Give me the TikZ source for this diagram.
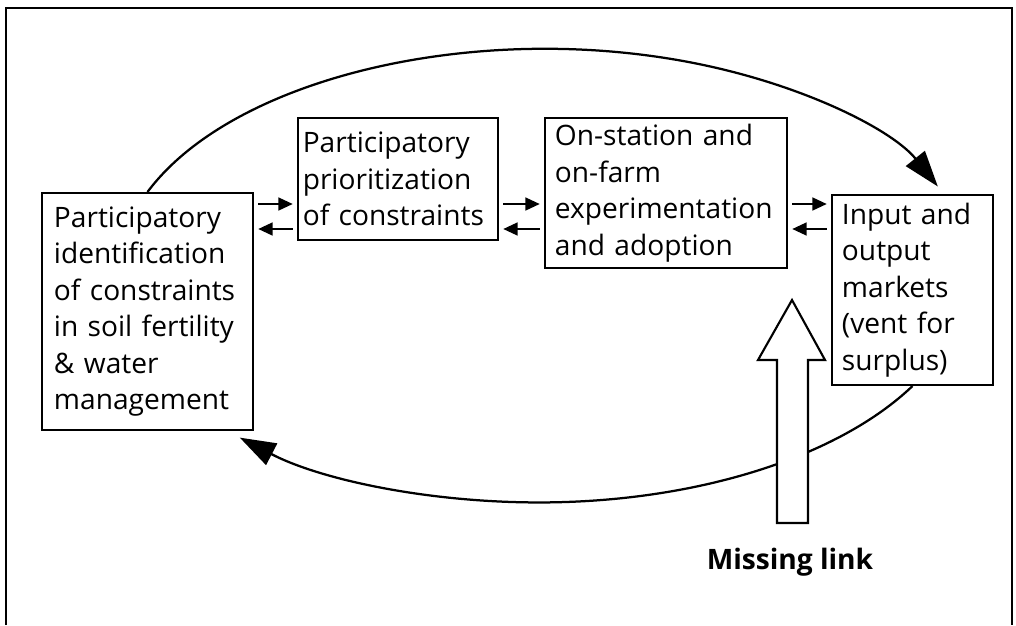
\documentclass[tikz,border=0pt]{standalone}
\usepackage{fontspec}
\setmainfont{Open Sans}
\usetikzlibrary{arrows.meta,positioning,calc}

\begin{document}
\begin{tikzpicture}[
    x=0.025cm, y=-0.025cm,
    box/.style={draw, line width=1.4pt, align=left, inner xsep=0.25cm, inner ysep=0pt, font=\fontsize{20}{26}\selectfont},
    sarr/.style={-{Triangle[length=0.36cm,width=0.32cm]}, line width=1.6pt, shorten <=3pt, shorten >=3pt},
    loop/.style={-{Triangle[length=0.9cm,width=0.6cm]}, line width=1.6pt},
    bigarrow/.style={draw, fill=white, line width=1.5pt, line join=miter}
  ]
    \useasboundingbox (0,0) rectangle (1016,625);
    % frame
    \draw[line width=1.5pt] (6,625) -- (6,8) -- (1012,8) -- (1012,625);

    \node[box, inner xsep=0.3cm, text width=4.675cm, minimum height=5.925cm] (b1) at (147.5,311.5) {Participatory\\identification\\of constraints\\in soil fertility\\\& water\\management};
    \node[box, inner xsep=0.12cm, text width=4.76cm, minimum height=3.05cm] (b2) at (398,179) {Participatory\\prioritization\\of constraints};
    \node[box, text width=5.55cm, minimum height=3.75cm] (b3) at (666,193) {On-station and\\on-farm\\experimentation\\and adoption};
    \node[box, text width=3.525cm, minimum height=4.75cm] (b4) at (912.5,290) {Input and\\output\\markets\\(vent for\\surplus)};

    % two-way links
    \foreach \l/\r in {b1/b2,b2/b3,b3/b4} {
      \draw[sarr] (\l.east |- 0,204) -- (\r.west |- 0,204);
      \draw[sarr] (\r.west |- 0,229) -- (\l.east |- 0,229);
    }

    % outer loop
    \draw[loop] (b1.north) arc[start angle=201.5, end angle=337, x radius=427, y radius=226];
    \draw[loop] (b4.south) arc[start angle=29, end angle=134.5, x radius=427, y radius=226];

    % missing link
    \draw[bigarrow] (777,523) -- (777,360) -- (758,360) -- (792,300) -- (825,360) -- (808,360) -- (808,523) -- cycle;
    \node[font=\fontsize{20}{24}\selectfont\bfseries] (gap) at (790,562) {Missing link};
\end{tikzpicture}
\end{document}
